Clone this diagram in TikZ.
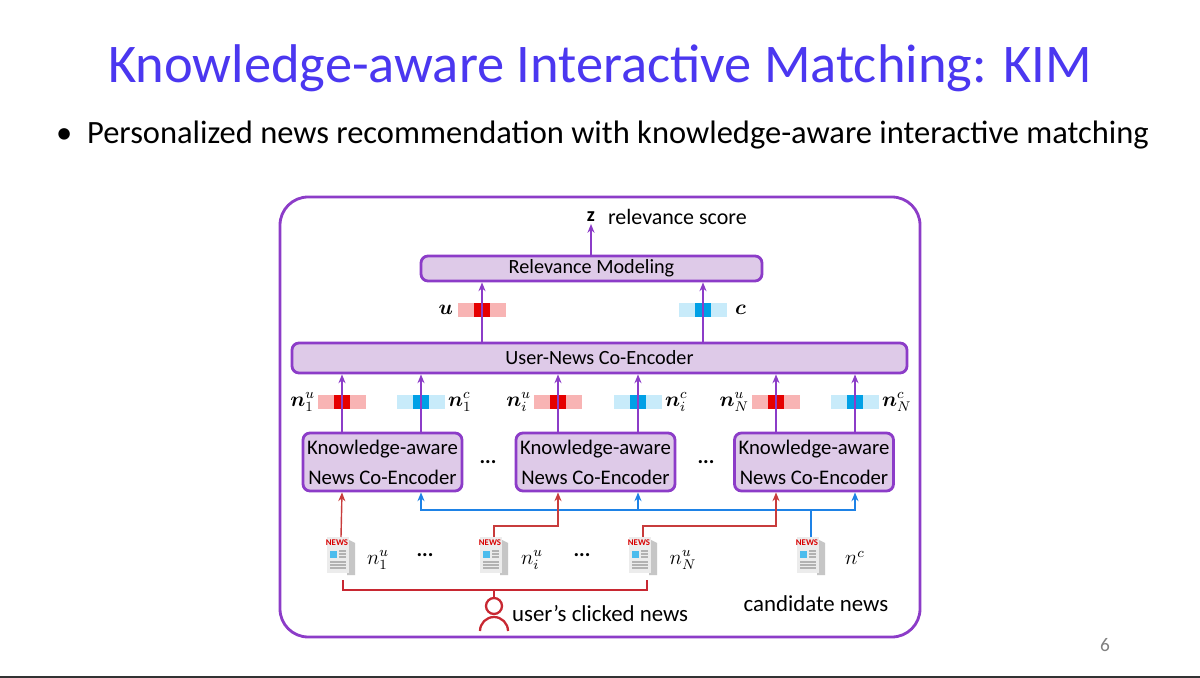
\documentclass[tikz,border=0pt]{standalone}
\usepackage{fontspec}
\usepackage{amsmath,bm}
\setmainfont{Carlito}
\usetikzlibrary{arrows.meta}
\definecolor{ttl}{RGB}{75,55,240}
\definecolor{pur}{RGB}{140,60,200}
\definecolor{lav}{RGB}{222,202,232}
\definecolor{rd}{RGB}{230,0,0}
\definecolor{rdl}{RGB}{248,180,180}
\definecolor{bl}{RGB}{0,160,230}
\definecolor{bll}{RGB}{200,235,250}
\definecolor{bline}{RGB}{30,130,230}
\definecolor{rline}{RGB}{200,60,60}
\definecolor{dred}{RGB}{200,40,50}
\tikzset{
  box/.style={draw=pur,line width=1.6pt,fill=lav,rounded corners=4pt,inner sep=0pt},
  parr/.style={draw=pur,line width=1pt,-{Stealth[length=5pt,width=4pt]}},
  barr/.style={draw=bline,line width=1pt,-{Stealth[length=5pt,width=4pt]}},
  rarr/.style={draw=rline,line width=0.8pt,-{Stealth[length=5pt,width=4pt]}},
  lbl/.style={font=\fontsize{11.5}{11.5}\selectfont,inner sep=1pt},
}
\newcommand{\redbar}[3]{\fill[rdl] (#1-24,#2-7) rectangle (#1+24,#2+7);\fill[rd] (#1-8,#2-7) rectangle (#1+8,#2+7);\coordinate (#3) at (#1,#2);}
\newcommand{\bluebar}[3]{\fill[bll] (#1-24,#2-7) rectangle (#1+24,#2+7);\fill[bl] (#1-8,#2-7) rectangle (#1+8,#2+7);\coordinate (#3) at (#1,#2);}
\newcommand{\newsdoc}[3]{%
  \fill[gray!45] (#1+6,#2-16) -- (#1+14,#2-12) -- (#1+14,#2+20) -- (#1+6,#2+20) -- cycle;
  \fill[gray!15] (#1-14,#2-18) rectangle (#1+8,#2+18);
  \node[text=red!85!black,font=\fontsize{5}{5}\bfseries\selectfont,inner sep=0pt] at (#1-4,#2-12) {NEWS};
  \fill[bl!70] (#1-11,#2-4) rectangle (#1-4,#2+3);
  \foreach \yy in {-4,-1,2} \draw[gray!60,line width=0.6pt] (#1-2,#2+\yy) -- (#1+5,#2+\yy);
  \foreach \yy in {7,10,13} \draw[gray!60,line width=0.6pt] (#1-11,#2+\yy) -- (#1+5,#2+\yy);
  \coordinate (#3t) at (#1,#2-18);\coordinate (#3b) at (#1,#2+18);}
\begin{document}
\begin{tikzpicture}[x=0.02cm,y=-0.02cm]
\useasboundingbox (0,0) rectangle (1200,678);
\fill[white] (0,0) rectangle (1200,678);
\node[text=ttl,font=\fontsize{31}{31}\selectfont] (title) at (600,68) {Knowledge-aware Interactive Matching: KIM};
\node[anchor=west,font=\fontsize{18.5}{18.5}\selectfont] (bul) at (50,135) {\textbullet\ \ Personalized news recommendation with knowledge-aware interactive matching};
\draw[pur,line width=1.6pt,rounded corners=16pt] (280,197) rectangle (920,637);
% top
\node[lbl] (z) at (591,217) {$\mathbf{z}$};
\node[lbl,anchor=west,font=\fontsize{12.5}{12.5}\selectfont] (rs) at (606,217) {relevance score};
\node[box,minimum width=341*0.02cm,minimum height=25*0.02cm,font=\fontsize{11.5}{11.5}\selectfont] (rm) at (591.5,268.5) {Relevance Modeling};
\draw[parr] (rm.north -| z) -- (z.south);
\redbar{482}{310}{u}
\bluebar{703}{310}{c}
\node[lbl,anchor=east] (ul) at (455,310) {$\bm{u}$};
\node[lbl,anchor=west] (cl) at (733,310) {$\bm{c}$};
\node[box,minimum width=615*0.02cm,minimum height=30*0.02cm,font=\fontsize{11.5}{11.5}\selectfont] (une) at (599.5,358) {User-News Co-Encoder};
\draw[parr] (une.north -| u) -- (rm.south -| u);
\draw[parr] (une.north -| c) -- (rm.south -| c);
% vectors
\foreach \x/\nm/\lab in {342/a/1,558/b/i,776/d/N}{
  \redbar{\x}{402}{r\nm}
  \node[lbl,anchor=east] at (\x-25,402) {$\bm{n}_{\lab}^{u}$};}
\foreach \x/\nm/\lab in {421/a/1,638/b/i,855/d/N}{
  \bluebar{\x}{402}{c\nm}
  \node[lbl,anchor=west] at (\x+25,402) {$\bm{n}_{\lab}^{c}$};}
% KNCE
\foreach \x/\nm in {382.5/a,595.5/b,814/d}{
  \node[box,minimum width=159*0.02cm,minimum height=58*0.02cm,align=center,font=\fontsize{11.8}{17}\selectfont] (k\nm) at (\x,462) {Knowledge-aware\\News Co-Encoder};}
\foreach \nm in {a,b,d}{
  \draw[parr] (k\nm.north -| r\nm) -- (une.south -| r\nm);
  \draw[parr] (k\nm.north -| c\nm) -- (une.south -| c\nm);}
\node[font=\bfseries\fontsize{12}{12}\selectfont] (dk1) at (488,462) {...};
\node[font=\bfseries\fontsize{12}{12}\selectfont] (dk2) at (706,462) {...};
% docs
\newsdoc{341}{555}{d1}
\newsdoc{494}{555}{di}
\newsdoc{643}{555}{dn}
\newsdoc{811}{555}{dc}
\node[lbl] (l1) at (378,560) {$n_1^u$};
\node[lbl] (li) at (532,560) {$n_i^u$};
\node[lbl] (ln) at (683,560) {$n_N^u$};
\node[lbl] (lc) at (855,558) {$n^c$};
\node[font=\bfseries\fontsize{12}{12}\selectfont] (dd1) at (425,555) {...};
\node[font=\bfseries\fontsize{12}{12}\selectfont] (dd2) at (582,555) {...};
% blue lines
\coordinate (bj) at (811,510);
\draw[bline,line width=1pt] (dct) -- (bj);
\draw[barr] (bj) -- (855,510) -- (kd.south -| cd);
\draw[barr] (bj) -- (421,510) -- (ka.south -| ca);
\draw[barr] (638,510) -- (kb.south -| cb);
% red lines
\draw[rarr] (d1t) -- (ka.south -| ra);
\draw[rarr] (dit) -- (494,526) -- (558,526) -- (kb.south -| rb);
\draw[rarr] (dnt) -- (643,526) -- (776,526) -- (kd.south -| rd);
% user bracket
\draw[dred,line width=1pt] (343,580) -- (343,590) -- (647,590) -- (647,580);
\draw[dred,line width=1pt] (494,590) -- (494,597);
\draw[dred,line width=1.3pt] (494,606) circle (8);
\draw[dred,line width=1.3pt] (480,631) arc[start angle=180,end angle=360,x radius=14,y radius=14];
\node[lbl,anchor=west,font=\fontsize{13}{13}\selectfont] (ucn) at (510,614) {user’s clicked news};
\node[lbl,font=\fontsize{13}{13}\selectfont] (cn) at (816,604) {candidate news};
\node[text=gray,font=\fontsize{11}{11}\selectfont] (pg) at (1105,645) {6};
\draw[black!80,line width=1.5pt] (0,677) -- (1200,677);
\end{tikzpicture}
\end{document}
